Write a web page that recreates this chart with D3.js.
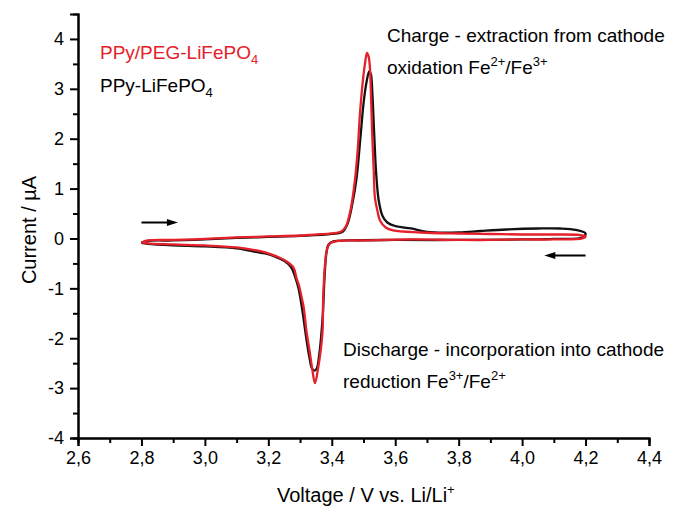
<!DOCTYPE html>
<html>
<head>
<meta charset="utf-8">
<script src="https://cdn.jsdelivr.net/npm/d3@7"></script>
<style>
    body { margin: 0; background: #fff; }
    text { font-family: "Liberation Sans", Arial, sans-serif; }
</style>
</head>
<body>
<div id="container"></div>
<script>
// tick values
const voltageTicks = [2.6, 2.8, 3.0, 3.2, 3.4, 3.6, 3.8, 4.0, 4.2, 4.4];
const voltageMinor = [2.7, 2.9, 3.1, 3.3, 3.5, 3.7, 3.9, 4.1, 4.3];
const currentTicks = [-4, -3, -2, -1, 0, 1, 2, 3, 4];
const currentMinor = [-3.5, -2.5, -1.5, -0.5, 0.5, 1.5, 2.5, 3.5];

// PPy/PEG-LiFePO4 (red) - anodic scan then cathodic scan
const pegVoltage = [2.80, 2.82, 2.90, 3.00, 3.10, 3.20, 3.30, 3.40, 3.43, 3.445,
    3.46, 3.473, 3.482, 3.489, 3.497, 3.505, 3.511, 3.516, 3.520, 3.524,
    3.527, 3.532, 3.536, 3.544, 3.552, 3.570, 3.593, 3.68, 3.80, 3.90,
    4.00, 4.10, 4.18, 4.20,
    4.19, 4.10, 4.00, 3.90, 3.80, 3.65, 3.50, 3.42, 3.394, 3.384,
    3.379, 3.373, 3.371, 3.365, 3.357, 3.347, 3.338, 3.330, 3.320, 3.312,
    3.305, 3.297, 3.289, 3.279, 3.255, 3.226, 3.190, 3.163, 3.10, 3.00,
    2.90, 2.82, 2.80];
const pegCurrent = [-0.08, -0.04, -0.03, -0.01, 0.02, 0.04, 0.06, 0.10, 0.14, 0.25,
    0.6, 1.17, 1.8, 2.52, 3.1, 3.52, 3.72, 3.65, 3.45, 2.8,
    2.17, 1.4, 0.82, 0.55, 0.36, 0.22, 0.16, 0.12, 0.10, 0.09,
    0.08, 0.08, 0.07, 0.04,
    0.0, -0.02, -0.02, -0.03, -0.03, -0.02, -0.04, -0.05, -0.1, -0.24,
    -0.5, -1.18, -1.85, -2.25, -2.6, -2.9, -2.6, -2.25, -1.85, -1.4,
    -1.18, -0.95, -0.8, -0.58, -0.45, -0.36, -0.28, -0.24, -0.18, -0.14,
    -0.12, -0.10, -0.08];

// PPy-LiFePO4 (black)
const plainVoltage = [2.80, 2.82, 2.90, 3.00, 3.10, 3.20, 3.30, 3.40, 3.435, 3.45,
    3.465, 3.478, 3.490, 3.500, 3.510, 3.518, 3.523, 3.528, 3.533, 3.540,
    3.548, 3.560, 3.575, 3.600, 3.650, 3.70, 3.80, 3.87, 3.95, 4.05,
    4.12, 4.17, 4.20,
    4.19, 4.10, 4.00, 3.80, 3.60, 3.45, 3.405, 3.39, 3.383, 3.377,
    3.372, 3.366, 3.360, 3.353, 3.345, 3.337, 3.330, 3.322, 3.313, 3.305,
    3.295, 3.285, 3.272, 3.250, 3.220, 3.190, 3.160, 3.10, 3.00, 2.90,
    2.82, 2.80];
const plainCurrent = [-0.09, -0.05, -0.04, -0.02, 0.01, 0.03, 0.05, 0.09, 0.14, 0.3,
    0.7, 1.2, 2.0, 2.7, 3.15, 3.35, 3.3, 2.9, 2.2, 1.3,
    0.76, 0.45, 0.32, 0.25, 0.2, 0.13, 0.12, 0.15, 0.18, 0.2,
    0.2, 0.17, 0.1,
    0.02, -0.01, -0.02, -0.03, -0.03, -0.04, -0.06, -0.12, -0.3, -0.8,
    -1.5, -2.0, -2.35, -2.6, -2.65, -2.6, -2.4, -2.1, -1.7, -1.35,
    -1.0, -0.78, -0.58, -0.45, -0.36, -0.3, -0.27, -0.2, -0.16, -0.14,
    -0.11, -0.09];

const red = "#e5202a";
const width = 678, height = 507;
const margin = { top: 14, right: 29, bottom: 69, left: 78 };

const svg = d3.select("#container").append("svg")
    .attr("width", width)
    .attr("height", height);

const x = d3.scaleLinear().domain([2.6, 4.4]).range([margin.left, width - margin.right]);
const y = d3.scaleLinear().domain([-4, 4.5]).range([height - margin.bottom, margin.top]);

// axes
function styleAxis(g) {
    g.select(".domain").attr("stroke", "#000").attr("stroke-width", 2);
    g.selectAll(".tick line").attr("stroke", "#000").attr("stroke-width", 2);
    g.selectAll(".tick text").attr("fill", "#000").attr("font-size", 18)
        .attr("font-family", "'Liberation Sans', Arial, sans-serif");
}

svg.append("g")
    .attr("transform", `translate(0,${y(-4)})`)
    .call(d3.axisBottom(x).tickValues(voltageMinor).tickSize(5).tickFormat(""))
    .call(styleAxis);
svg.append("g")
    .attr("transform", `translate(${x(2.6)},0)`)
    .call(d3.axisLeft(y).tickValues(currentMinor).tickSize(5).tickFormat(""))
    .call(styleAxis);

svg.append("g")
    .attr("transform", `translate(0,${y(-4)})`)
    .call(d3.axisBottom(x).tickValues(voltageTicks).tickSize(8).tickPadding(5)
        .tickFormat(d => d.toFixed(1).replace(".", ",")))
    .call(styleAxis);
svg.append("g")
    .attr("transform", `translate(${x(2.6)},0)`)
    .call(d3.axisLeft(y).tickValues(currentTicks).tickSize(8).tickPadding(6)
        .tickFormat(d => String(d)))
    .call(styleAxis);

// curves
const line = d3.line()
    .x(d => x(d[0]))
    .y(d => y(d[1]))
    .curve(d3.curveCatmullRom.alpha(0.5));

function drawLoop(volts, amps, colour) {
    svg.append("path")
        .datum(d3.zip(volts, amps))
        .attr("d", line)
        .attr("fill", "none")
        .attr("stroke", colour)
        .attr("stroke-width", 2.3)
        .attr("stroke-linejoin", "round");
}

drawLoop(plainVoltage, plainCurrent, "#111");
drawLoop(pegVoltage, pegCurrent, red);

// scan direction arrows
function arrow(v0, v1, i) {
    const dir = Math.sign(x(v1) - x(v0));
    svg.append("line")
        .attr("x1", x(v0)).attr("x2", x(v1) - dir * 6)
        .attr("y1", y(i)).attr("y2", y(i))
        .attr("stroke", "#000").attr("stroke-width", 2);
    const tx = x(v1), ty = y(i);
    svg.append("path")
        .attr("d", `M${tx},${ty} L${tx - dir * 11},${ty - 3.5} L${tx - dir * 11},${ty + 3.5} Z`)
        .attr("fill", "#000");
}
arrow(2.80, 2.915, 0.32);
arrow(4.20, 4.07, -0.34);

// legend + annotations
function label(px, py, parts, colour) {
    const t = svg.append("text")
        .attr("x", px).attr("y", py)
        .attr("font-size", 19)
        .attr("fill", colour);
    parts.forEach(p => {
        const s = t.append("tspan").text(p.t);
        if (p.sub) s.attr("font-size", 13).attr("dy", 5);
        if (p.sup) s.attr("font-size", 13).attr("dy", -8);
        if (p.back) s.attr("dy", p.back);
    });
}

label(100, 59, [{ t: "PPy/PEG-LiFePO" }, { t: "4", sub: true }], red);
label(100, 92, [{ t: "PPy-LiFePO" }, { t: "4", sub: true }], "#000");

label(387, 42, [{ t: "Charge - extraction from cathode" }], "#000");
label(387, 74, [{ t: "oxidation Fe" }, { t: "2+", sup: true }, { t: "/Fe", back: 8 },
    { t: "3+", sup: true }], "#000");

label(343, 356, [{ t: "Discharge - incorporation into cathode" }], "#000");
label(343, 388, [{ t: "reduction Fe" }, { t: "3+", sup: true }, { t: "/Fe", back: 8 },
    { t: "2+", sup: true }], "#000");

// axis titles
svg.append("text")
    .attr("transform", `translate(36,230) rotate(-90)`)
    .attr("text-anchor", "middle")
    .attr("font-size", 20)
    .text("Current / \u00b5A");

const xt = svg.append("text")
    .attr("x", 277).attr("y", 502)
    .attr("font-size", 20);
xt.append("tspan").text("Voltage / V vs. Li/Li");
xt.append("tspan").text("+").attr("font-size", 13).attr("dy", -8);
</script>
</body>
</html>
